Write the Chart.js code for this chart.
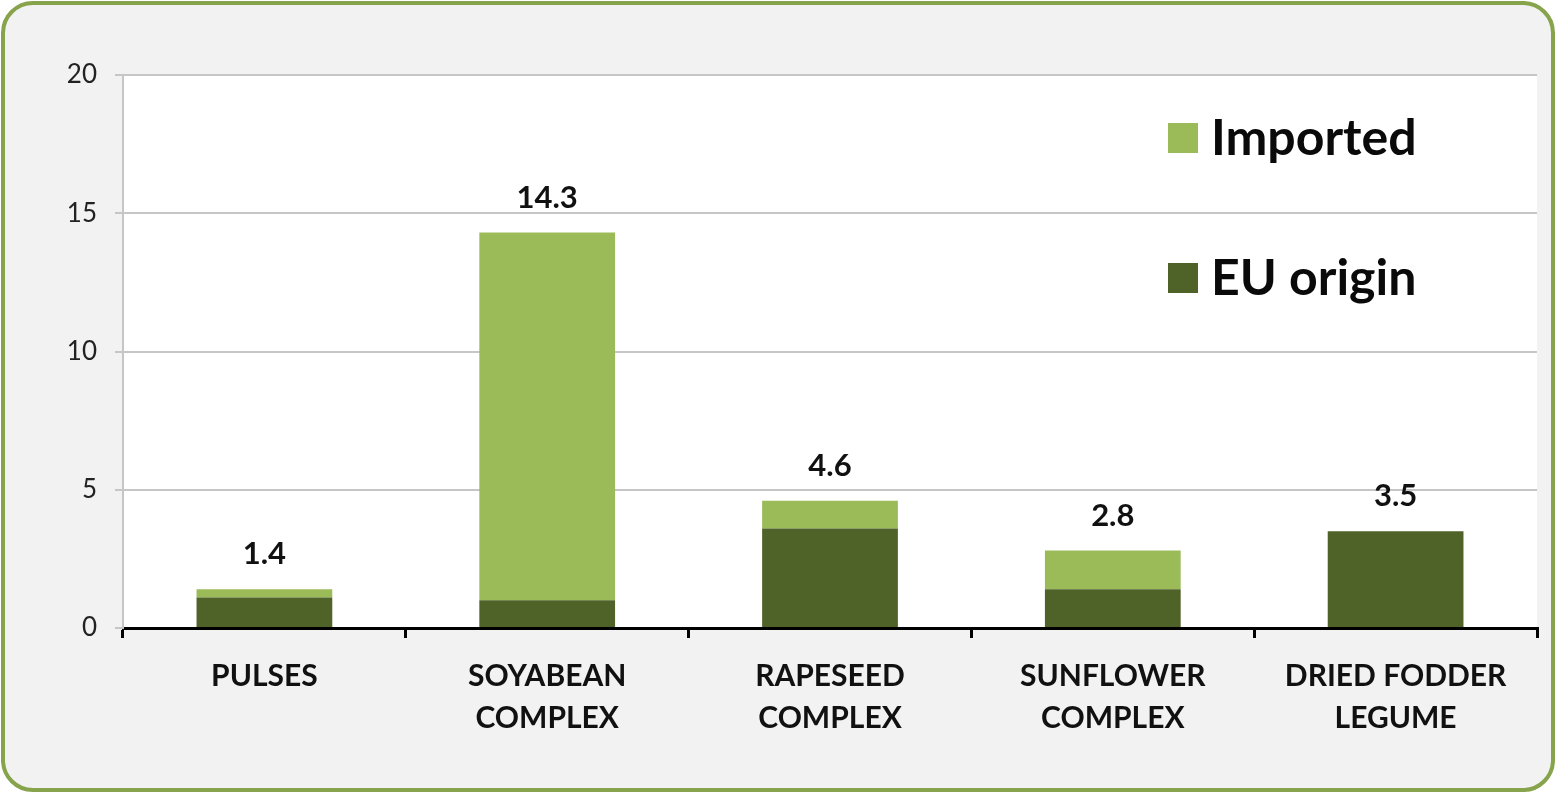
<!DOCTYPE html>
<html>
<head>
<meta charset="utf-8">
<script src="https://cdn.jsdelivr.net/npm/chart.js@4"></script>
<style>
  html, body { margin: 0; padding: 0; background: #ffffff; }
  #frame {
    position: absolute; left: 1px; top: 1px; width: 1554px; height: 791px;
    box-sizing: border-box; border: 4px solid #87a34b; border-radius: 32px;
    background: #f2f2f2;
  }
  #wrap { position: absolute; left: 0; top: 0; width: 1556px; height: 794px; }
</style>
</head>
<body>
<div id="frame"></div>
<div id="wrap"><canvas id="proteinChart" width="1556" height="794"></canvas></div>
<script>
// categories and values (million t)
var categories = [
  ['PULSES'],
  ['SOYABEAN', 'COMPLEX'],
  ['RAPESEED', 'COMPLEX'],
  ['SUNFLOWER', 'COMPLEX'],
  ['DRIED FODDER', 'LEGUME']
];
var euOrigin = [1.1, 1.0, 3.6, 1.4, 3.5];
var imported = [0.3, 13.3, 1.0, 1.4, 0];
var totals = [1.4, 14.3, 4.6, 2.8, 3.5];
var yTicks = [0, 5, 10, 15, 20];

var fontFamily = 'Lato, "Open Sans", sans-serif';

// white plot area
var plotBg = {
  id: 'plotBg',
  beforeDraw: function(chart) {
    var a = chart.chartArea, ctx = chart.ctx;
    ctx.save();
    ctx.fillStyle = '#ffffff';
    ctx.fillRect(a.left, a.top, a.right - a.left, a.bottom - a.top);
    ctx.restore();
  }
};

// total labels above the stacks
var totalLabels = {
  id: 'totalLabels',
  afterDatasetsDraw: function(chart) {
    var ctx = chart.ctx;
    var x = chart.scales.x, y = chart.scales.y;
    ctx.save();
    ctx.font = 'bold 31px ' + fontFamily;
    ctx.fillStyle = '#111111';
    ctx.textAlign = 'center';
    ctx.textBaseline = 'middle';
    totals.forEach(function(t, i) {
      ctx.fillText(t.toFixed(1), x.getPixelForValue(i), y.getPixelForValue(t) - 35);
    });
    ctx.restore();
  }
};

// legend inside the plot, top right
var insideLegend = {
  id: 'insideLegend',
  afterDraw: function(chart) {
    var ctx = chart.ctx;
    var items = chart.data.datasets.slice().reverse();
    ctx.save();
    ctx.font = 'bold 50px ' + fontFamily;
    ctx.textBaseline = 'middle';
    ctx.textAlign = 'left';
    items.forEach(function(ds, i) {
      var cy = 138 + i * 140;
      ctx.fillStyle = ds.backgroundColor;
      ctx.fillRect(1168, cy - 15, 30, 30);
      ctx.fillStyle = '#0a0a0a';
      ctx.fillText(ds.label, 1211, cy + 1);
    });
    ctx.restore();
  }
};

var ctx = document.getElementById('proteinChart').getContext('2d');
var proteinChart = new Chart(ctx, {
  type: 'bar',
  data: {
    labels: categories,
    datasets: [
      { label: 'EU origin', data: euOrigin, backgroundColor: '#4f6228',
        barPercentage: 0.48, categoryPercentage: 1 },
      { label: 'Imported', data: imported, backgroundColor: '#9bbb59',
        barPercentage: 0.48, categoryPercentage: 1 }
    ]
  },
  options: {
    responsive: false,
    animation: false,
    layout: { padding: { top: 75, right: 19, left: 0, bottom: 0 } },
    plugins: {
      legend: { display: false },
      tooltip: { enabled: false }
    },
    scales: {
      x: {
        stacked: true,
        afterFit: function(s) { s.height = 166; },
        grid: { drawOnChartArea: false, drawTicks: true, tickLength: 10,
                color: '#000000', lineWidth: 3, offset: true },
        border: { color: '#000000', width: 3 },
        ticks: { color: '#111111', padding: 17,
                 font: { family: fontFamily, size: 30, weight: 'bold', lineHeight: 1.4 } }
      },
      y: {
        stacked: true,
        min: 0, max: 20,
        afterFit: function(s) { s.width = 123; },
        afterBuildTicks: function(s) { s.ticks = yTicks.map(function(v) { return { value: v }; }); },
        grid: { color: '#c6c6c6', lineWidth: 2, tickLength: 8 },
        border: { color: '#c6c6c6', width: 2 },
        ticks: { color: '#222222', padding: 18,
                 font: { family: fontFamily, size: 26 } }
      }
    }
  },
  plugins: [plotBg, totalLabels, insideLegend]
});
</script>
</body>
</html>
